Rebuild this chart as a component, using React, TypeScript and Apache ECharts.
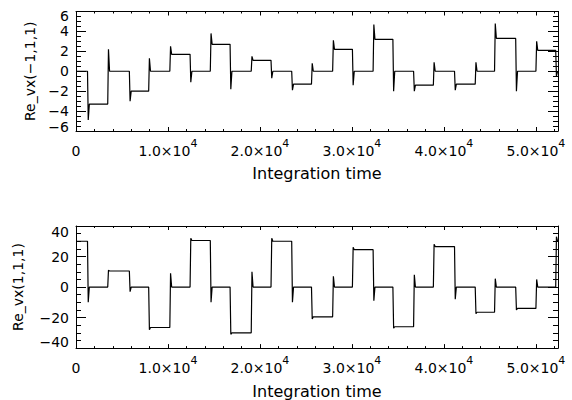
import React, { useEffect, useRef } from 'react';
import * as echarts from 'echarts';

// Times (integration time) at which both signals switch level
const switchTimes = [1250, 3450, 5800, 7900, 10200, 12400, 14600, 16750, 19050, 21200, 23450, 25600,
  27900, 30050, 32300, 34450, 36700, 38850, 41150, 43400, 45500, 47800, 50000, 52150];
const endTime = 52400;

// Top panel: Re_vx(-1,1,1)
const topStart = 0;
const topLevels = [-3.3, 0, -2.0, 0, 1.7, 0, 2.7, 0, 1.1, 0, -1.3, 0, 2.2, 0, 3.2, 0, -1.4, 0, -1.3, 0, 3.3, 0, 2.1, 0];
const topSpikes = [-4.9, 2.2, -3.0, 1.3, 2.5, -1.1, 3.8, -1.8, 1.5, -0.7, -1.9, 0.8, 3.1, -1.4, 4.7, -2.0, -2.0, 0.9, -1.9, 0.9, 4.8, -2.0, 3.0, -0.5];

// Bottom panel: Re_vx(1,1,1)
const bottomStart = 30;
const bottomLevels = [0, 10.5, 0, -26.5, 0, 30.5, 0, -30, 0, 30, 0, -19.5, 0, 24.5, 0, -26, 0, 26.5, 0, -16.5, 0, -14, 0, 30];
const bottomSpikes = [-10, 11, -3, -28, 9, 32, -10, -31, 10, 32, -10, -21, 7, 26, -9, -27, 8, 28, -8, -17.5, 5.5, -15, 5, 33];

// Tick labels
const xTickValues = [0, 10000, 20000, 30000, 40000, 50000];
const xTickMantissas = ['0', '1.0', '2.0', '3.0', '4.0', '5.0'];
const xTickExponent = '4';

const FONT = 'DejaVu Sans';
const BLACK = '#000';

function buildSeries(start: number, levels: number[], spikes: number[]) {
  const pts: number[][] = [[0, start]];
  let cur = start;
  switchTimes.forEach((t, i) => {
    pts.push([t, cur]);
    pts.push([t + 80, spikes[i]]);
    pts.push([t + 200, levels[i]]);
    cur = levels[i];
  });
  pts.push([endTime, cur]);
  return pts;
}

const fmtNum = (v: number) => (v < 0 ? '\u2212' + String(-v) : String(v));

function xLabelFormatter(v: number) {
  const idx = xTickValues.indexOf(v);
  if (idx < 0) return '';
  if (v === 0) return '{a|0}';
  return `{a|${xTickMantissas[idx]}×10}{s|${xTickExponent}}`;
}

const richX = {
  a: { fontSize: 14, fontFamily: FONT, color: BLACK, lineHeight: 28 },
  s: { fontSize: 11, fontFamily: FONT, color: BLACK, lineHeight: 13, padding: [0, 0, 15, 0] },
};

function makeXAxes(gridIndex: number) {
  const common = {
    type: 'value',
    gridIndex,
    min: 0,
    max: endTime,
    interval: 10000,
    splitLine: { show: false },
    axisLine: { show: true, onZero: false, lineStyle: { color: BLACK, width: 1 } },
    axisTick: { show: true, inside: true, length: 4, lineStyle: { color: BLACK, width: 1 } },
    minorTick: { show: true, splitNumber: 5, length: 2, lineStyle: { color: BLACK, width: 1 } },
  };
  return [
    {
      ...common,
      position: 'bottom',
      axisLabel: {
        show: true,
        margin: 6,
        showMaxLabel: false,
        formatter: xLabelFormatter,
        rich: richX,
        color: BLACK,
        fontFamily: FONT,
        fontSize: 14,
        lineHeight: 28,
      },
      name: 'Integration time',
      nameLocation: 'middle',
      nameGap: 29.5,
      nameTextStyle: { fontFamily: FONT, fontSize: 16, color: BLACK },
    },
    { ...common, position: 'top', axisLabel: { show: false } },
  ];
}

function makeYAxes(gridIndex: number, min: number, max: number, interval: number, name: string, nameGap: number, edgeShift: number) {
  const common = {
    type: 'value',
    gridIndex,
    min,
    max,
    interval,
    splitLine: { show: false },
    axisLine: { show: true, onZero: false, lineStyle: { color: BLACK, width: 1 } },
    axisTick: { show: true, inside: true, length: 10, lineStyle: { color: BLACK, width: 1 } },
    minorTick: { show: true, splitNumber: 4, length: 5, lineStyle: { color: BLACK, width: 1 } },
  };
  const base = { fontSize: 14, fontFamily: FONT, color: BLACK, lineHeight: 14 };
  return [
    {
      ...common,
      position: 'left',
      axisLabel: {
        show: true,
        margin: 7,
        formatter: (v: number) => {
          if (v === max) return `{t|${fmtNum(v)}}`;
          if (v === min) return `{b|${fmtNum(v)}}`;
          return `{n|${fmtNum(v)}}`;
        },
        rich: {
          n: base,
          t: { ...base, padding: [edgeShift * 2, 0, 0, 0] },
          b: { ...base, padding: [0, 0, edgeShift * 2, 0] },
        },
        color: BLACK,
        fontFamily: FONT,
        fontSize: 14,
        showMinLabel: true,
        showMaxLabel: true,
      },
      name,
      nameLocation: 'middle',
      nameGap,
      nameRotate: 90,
      nameTextStyle: { fontFamily: FONT, fontSize: 14, color: BLACK },
    },
    { ...common, position: 'right', axisLabel: { show: false } },
  ];
}

export default function App() {
  const ref = useRef<HTMLDivElement>(null);
  useEffect(() => {
    if (!ref.current) return;
    const chart = echarts.init(ref.current, undefined, { renderer: 'svg' });
    const option = {
      animation: false,
      backgroundColor: '#fff',
      grid: [
        { left: 76, top: 7, width: 482, height: 124 },
        { left: 76, top: 226, width: 482, height: 124 },
      ],
      xAxis: [...makeXAxes(0), ...makeXAxes(1)],
      yAxis: [
        ...makeYAxes(0, -6, 6, 2, 'Re_vx(\u22121,1,1)', 38, 4.5),
        ...makeYAxes(1, -40, 40, 20, 'Re_vx(1,1,1)', 51, 6),
      ],
      series: [
        {
          type: 'line',
          xAxisIndex: 0,
          yAxisIndex: 0,
          data: buildSeries(topStart, topLevels, topSpikes),
          showSymbol: false,
          lineStyle: { color: BLACK, width: 1.2 },
          silent: true,
        },
        {
          type: 'line',
          xAxisIndex: 2,
          yAxisIndex: 2,
          data: buildSeries(bottomStart, bottomLevels, bottomSpikes),
          showSymbol: false,
          lineStyle: { color: BLACK, width: 1.2 },
          silent: true,
        },
      ],
    };
    chart.setOption(option as any);
    return () => chart.dispose();
  }, []);
  return (
    <div
      ref={ref}
      style={{ position: 'fixed', left: 0, top: 0, width: 572, height: 400, background: '#fff' }}
    />
  );
}
